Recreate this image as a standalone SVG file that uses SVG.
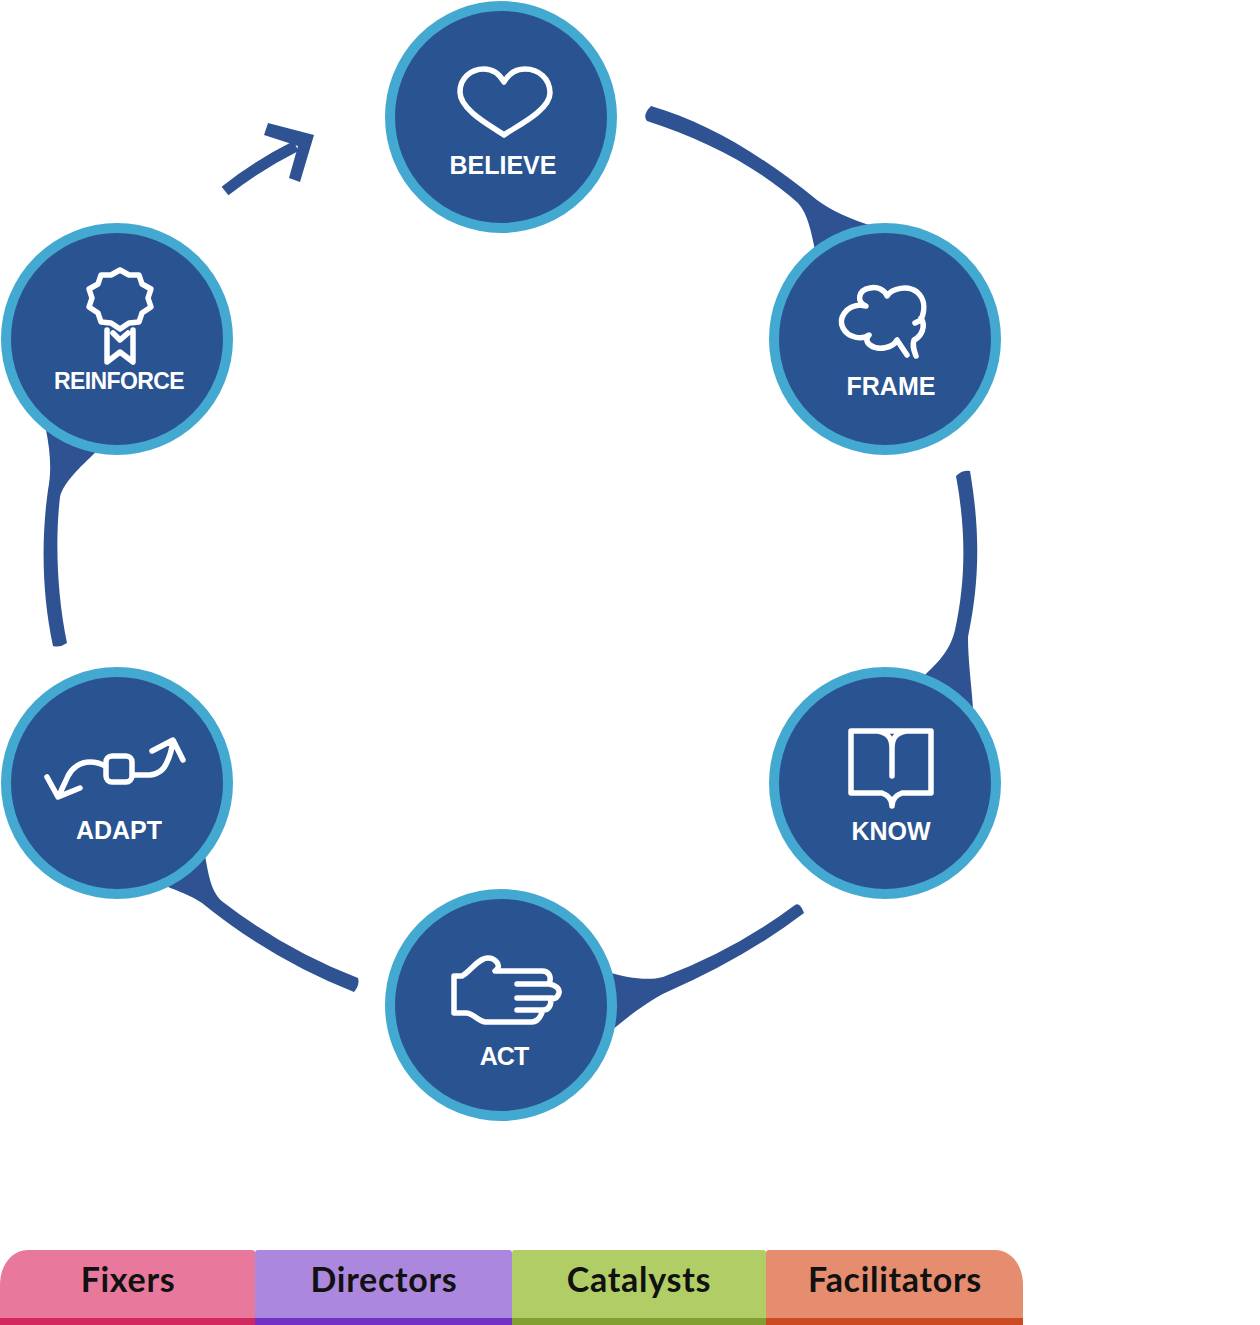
<svg xmlns="http://www.w3.org/2000/svg" width="1260" height="1325" viewBox="0 0 1260 1325">
<style>
.disc{fill:#2a5391;stroke:#44a9d0;stroke-width:10}
.ico{fill:none;stroke:#fff;stroke-width:5.5;stroke-linecap:round;stroke-linejoin:round}
.lbl{font-family:"Liberation Sans",Arial,sans-serif;font-weight:700;font-size:25px;fill:#fff;text-anchor:middle}
.tab{font-family:"Lato","Liberation Sans",sans-serif;font-weight:700;font-size:34px;letter-spacing:.7px;fill:#111;text-anchor:middle}
.con{fill:#2f5293}
.line{fill:none;stroke:#2f5293;stroke-width:11}
</style>
<rect width="1260" height="1325" fill="#fff"/>
<g id="connectors">
<path class="con" d="M651 106C705 122 755 150 817 200C832 211 850 219 872 226L815 250C811 232 808 214 798 203C755 165 705 140 647 121Q642 115 651 106Z"/>
<path class="con" d="M956 476Q962 470 970 471C980 530 980 580 968 637C968 660 971 680 973 708L925 675C935 665 950 652 955 630C966 580 966 530 956 476Z"/>
<path class="con" d="M795 905Q800 902 804 913Q745 958 667 992C650 1000 630 1015 612 1030L608 972C627 978 648 981 663 977Q735 950 795 905Z"/>
<path class="con" d="M205 856C208 870 210 892 223 902Q285 950 358 978Q360 985 354 992Q272 960 202 903C190 895 180 892 166 886Z"/>
<path class="con" d="M46 430C50 450 52 470 48 490C41 540 42 595 53 646Q60 648 67 643C57 595 55 540 60 497C63 483 80 467 96 452Z"/>
<path class="line" d="M225 191Q258 165 296 146"/>
<path class="con" d="M268 123L314 135L300 182L289 178L298 146L264 135Z"/>
</g>
<g id="believe"><circle class="disc" cx="501" cy="117" r="111"/>
<path class="ico" d="M504 135C495 128 460 111 460 92C460 78 471 69 484 69C493 69 500 75 504 82C508 75 515 69 525 69C539 69 550 79 550 93C550 111 513 128 504 135Z"/>
<text class="lbl" x="503" y="174">BELIEVE</text></g>
<g id="frame"><circle class="disc" cx="885" cy="339" r="111"/>
<path class="ico" d="M907 355L897 340C893 348 878 351 870 345C866 342 866 338 869 335C862 340 848 338 843 328C838 318 846 306 860 305L866 306C856 302 858 290 870 288C877 286 885 290 887 296C892 288 908 285 917 292C924 298 926 308 921 320L915 323M921 318C926 326 922 336 914 340C912 346 914 350 916 356"/>
<text class="lbl" x="891" y="395">FRAME</text></g>
<g id="know"><circle class="disc" cx="885" cy="783" r="111"/>
<path class="ico" d="M851 731H931V793H902C896 795 892 800 892 806C892 800 888 795 882 793H851ZM878 731C888 733 892 738 892 748V776M906 731C896 733 892 738 892 748"/>
<text class="lbl" x="891" y="840">KNOW</text></g>
<g id="act"><circle class="disc" cx="501" cy="1005" r="111"/>
<path class="ico" d="M495 971H542C549 971 552 977 549 984C556 985 560 989 559 993C558 997 555 999 551 999C551 1005 549 1010 543 1010C541 1016 538 1022 532 1022H485C478 1021 473 1013 466 1013H454V976H462C470 972 478 958 488 958C495 958 503 966 495 971ZM517 984H549M517 998H552M517 1010H543"/>
<text class="lbl" x="504" y="1065" letter-spacing="-1">ACT</text></g>
<g id="adapt"><circle class="disc" cx="117" cy="783" r="111"/>
<rect class="ico" x="106" y="756" width="26" height="26" rx="6"/>
<path class="ico" d="M105 766C100 763 95 762 90 762C80 762 72 768 68 776C65 783 62 788 60 794M47 777L58 797L80 788M133 775H150C158 774 164 770 167 762C170 756 172 748 173 741M152 751L173 740L183 760"/>
<text class="lbl" x="119" y="839">ADAPT</text></g>
<g id="reinforce"><circle class="disc" cx="117" cy="339" r="111"/>
<path class="ico" d="M120 270L129 275L139 275L142 284L151 289L148 298L151 307L142 313L139 322L129 323L120 329L111 323L101 322L98 313L89 307L92 298L89 289L98 284L101 275L111 275ZM107 330V362L120 352L133 362V330M113 333L120 340L128 333"/>
<text class="lbl" x="119" y="389" letter-spacing="-.6" style="font-size:23px">REINFORCE</text></g>
<g id="fixers"><path d="M0 1319V1285C0 1265 12 1250 28 1250H252Q255 1250 255 1253V1319Z" fill="#e8799d"/><rect y="1318" width="255" height="7" fill="#d1285f"/><text class="tab" x="128" y="1292">Fixers</text></g>
<g id="directors"><path d="M255 1319V1253Q255 1250 258 1250H509Q512 1250 512 1253V1319Z" fill="#ab87de"/><rect x="255" y="1318" width="257" height="7" fill="#7332c6"/><text class="tab" x="384" y="1292">Directors</text></g>
<g id="catalysts"><path d="M512 1319V1253Q512 1250 515 1250H763Q766 1250 766 1253V1319Z" fill="#b1cd66"/><rect x="512" y="1318" width="254" height="7" fill="#82a032"/><text class="tab" x="639" y="1292">Catalysts</text></g>
<g id="facilitators"><path d="M766 1319V1253Q766 1250 769 1250H995C1011 1250 1023 1265 1023 1285V1319Z" fill="#e68d6f"/><rect x="766" y="1318" width="257" height="7" fill="#cc4b22"/><text class="tab" x="895" y="1292">Facilitators</text></g>
</svg>
